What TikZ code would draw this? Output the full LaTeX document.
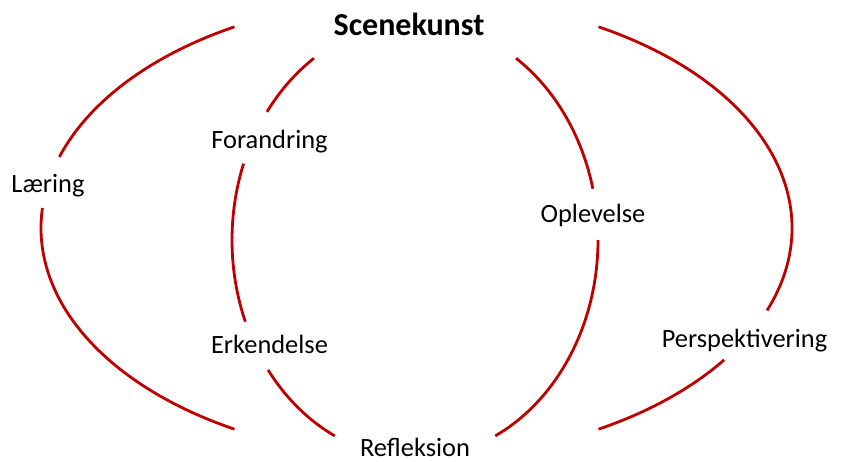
\documentclass[tikz,border=0pt]{standalone}
\usepackage{fontspec}
\setmainfont{Carlito}
\definecolor{arcred}{RGB}{192,0,0}
\begin{document}
\begin{tikzpicture}[x=1pt,y=1pt,
  lbl/.style={anchor=base, inner sep=0pt, font=\fontsize{26.4}{30}\selectfont},
  titlelbl/.style={anchor=base, inner sep=0pt, font=\fontsize{32}{38}\selectfont\bfseries},
  ring/.style={draw=arcred, line width=2.8pt}]
\useasboundingbox (0,0) rectangle (844,461);
% ellipse centres
\coordinate (oc) at (416.5,233);
\coordinate (ic) at (415,221);
% labels
\node[titlelbl] (scene) at (409,425) {Scenekunst};
\node[lbl] (laering) at (48,268) {Læring};
\node[lbl] (forandring) at (269.5,312) {Forandring};
\node[lbl] (oplevelse) at (593,238) {Oplevelse};
\node[lbl] (erkendelse) at (269.5,107) {Erkendelse};
\node[lbl] (refleksion) at (415,5) {Refleksion};
\node[lbl] (perspektivering) at (744.5,113) {Perspektivering};
% outer ellipse arcs
\draw[ring] (oc) ++(119:375.5 and 230) arc[start angle=119, end angle=162, x radius=375.5, y radius=230];
\draw[ring] (oc) ++(175:375.5 and 230) arc[start angle=175, end angle=241, x radius=375.5, y radius=230];
\draw[ring] (oc) ++(61:375.5 and 230) arc[start angle=61, end angle=-21, x radius=375.5, y radius=230];
\draw[ring] (oc) ++(-35:375.5 and 230) arc[start angle=-35, end angle=-61, x radius=375.5, y radius=230];
% inner ellipse arcs
\draw[ring] (ic) ++(123.5:183 and 218) arc[start angle=123.5, end angle=144, x radius=183, y radius=218];
\draw[ring] (ic) ++(159.5:183 and 218) arc[start angle=159.5, end angle=202, x radius=183, y radius=218];
\draw[ring] (ic) ++(216.6:183 and 218) arc[start angle=216.6, end angle=244, x radius=183, y radius=218];
\draw[ring] (ic) ++(56.5:183 and 218) arc[start angle=56.5, end angle=13.6, x radius=183, y radius=218];
\draw[ring] (ic) ++(0:183 and 218) arc[start angle=0, end angle=-64, x radius=183, y radius=218];
\end{tikzpicture}
\end{document}
